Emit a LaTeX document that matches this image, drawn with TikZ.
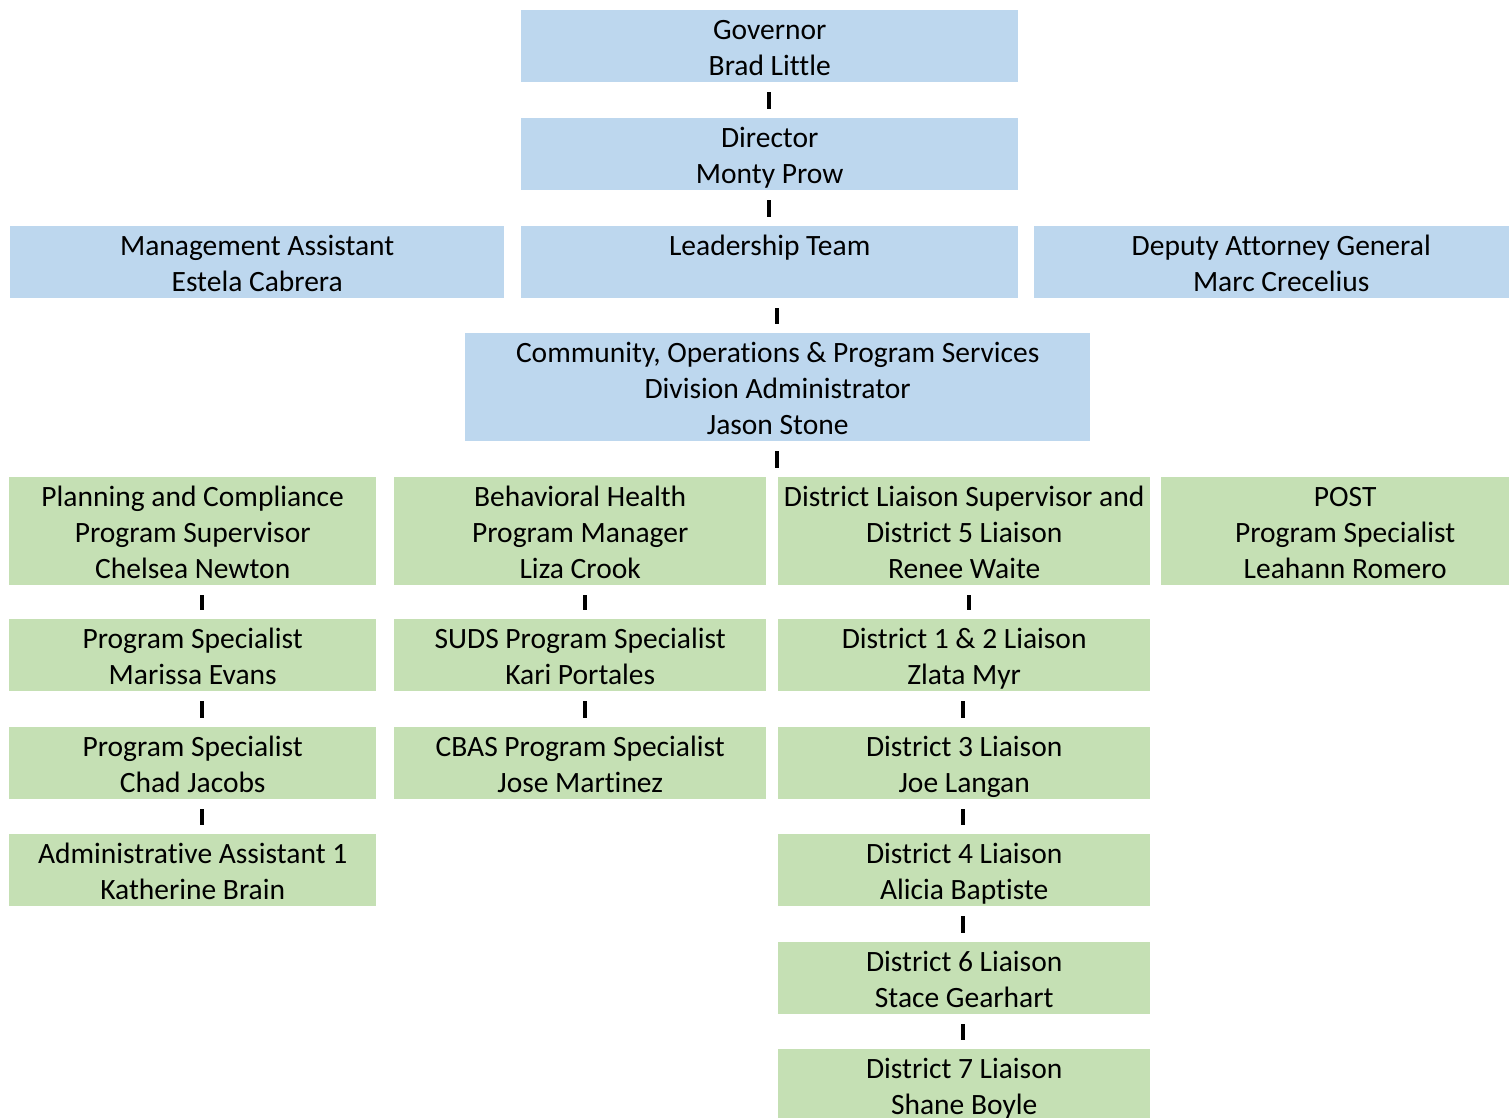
\documentclass[tikz,border=0pt]{standalone}
\usepackage{fontspec}
\setmainfont{Carlito}[Ligatures=NoCommon]
\definecolor{blueF}{HTML}{BDD7EE}
\definecolor{greenF}{HTML}{C5E0B4}
\newcommand\boxlines[1]{\raisebox{-4.5pt}[\height][\depth]{\begin{tabular}{@{}c@{}}#1\end{tabular}}}
\tikzset{
  box/.style={rectangle, inner sep=0pt, anchor=north west,
    font=\fontsize{29.5}{36}\selectfont, text=black},
  bluebox/.style={box, fill=blueF},
  greenbox/.style={box, fill=greenF},
  bar/.style={line width=3.5pt, black, shorten <=10pt, shorten >=9pt},
}
\begin{document}
\begin{tikzpicture}[x=1pt,y=-1pt]
\useasboundingbox (0,0) rectangle (1509,1117);
% top row
\node[bluebox, minimum width=497pt, minimum height=72pt] (gov) at (521,10) {\boxlines{Governor\\Brad Little}};
\node[bluebox, minimum width=497pt, minimum height=72pt] (dir) at (521,118) {\boxlines{Director\\Monty Prow}};
\node[bluebox, minimum width=494pt, minimum height=71pt] (ma) at (10,226) {\boxlines{Management Assistant\\Estela Cabrera}};
\node[bluebox, minimum width=497pt, minimum height=71pt] (lead) at (521,226) {\boxlines{Leadership Team\\\mbox{}}};
\node[bluebox, minimum width=494pt, minimum height=71pt] (dag) at (1034,226) {\boxlines{Deputy Attorney General\\Marc Crecelius}};
\node[bluebox, minimum width=625pt, minimum height=108pt] (cops) at (465,333) {\boxlines{Community, Operations \& Program Services\\Division Administrator\\Jason Stone}};
% green row 1
\node[greenbox, minimum width=367pt, minimum height=107pt] (plan) at (9,477) {\boxlines{Planning and Compliance\\Program Supervisor\\Chelsea Newton}};
\node[greenbox, minimum width=372pt, minimum height=107pt] (bh) at (394,477) {\boxlines{Behavioral Health\\Program Manager\\Liza Crook}};
\node[greenbox, minimum width=372pt, minimum height=107pt] (dls) at (778,477) {\boxlines{District Liaison Supervisor and\\District 5 Liaison\\Renee Waite}};
\node[greenbox, minimum width=368pt, minimum height=107pt] (post) at (1161,477) {\boxlines{POST\\Program Specialist\\Leahann Romero}};
% column 1
\node[greenbox, minimum width=367pt, minimum height=72pt] (ps1) at (9,619) {\boxlines{Program Specialist\\Marissa Evans}};
\node[greenbox, minimum width=367pt, minimum height=72pt] (ps2) at (9,727) {\boxlines{Program Specialist\\Chad Jacobs}};
\node[greenbox, minimum width=367pt, minimum height=72pt] (aa) at (9,834) {\boxlines{Administrative Assistant 1\\Katherine Brain}};
% column 2
\node[greenbox, minimum width=372pt, minimum height=72pt] (suds) at (394,619) {\boxlines{SUDS Program Specialist\\Kari Portales}};
\node[greenbox, minimum width=372pt, minimum height=72pt] (cbas) at (394,727) {\boxlines{CBAS Program Specialist\\Jose Martinez}};
% column 3
\node[greenbox, minimum width=372pt, minimum height=72pt] (d12) at (778,619) {\boxlines{District 1 \& 2 Liaison\\Zlata Myr}};
\node[greenbox, minimum width=372pt, minimum height=72pt] (d3) at (778,727) {\boxlines{District 3 Liaison\\Joe Langan}};
\node[greenbox, minimum width=372pt, minimum height=72pt] (d4) at (778,834) {\boxlines{District 4 Liaison\\Alicia Baptiste}};
\node[greenbox, minimum width=372pt, minimum height=72pt] (d6) at (778,942) {\boxlines{District 6 Liaison\\Stace Gearhart}};
\node[greenbox, minimum width=372pt, minimum height=72pt] (d7) at (778,1049) {\boxlines{District 7 Liaison\\Shane Boyle}};
% connectors (short bars)
\draw[bar] ([xshift=-0.5pt]gov.south) -- ([xshift=-0.5pt]dir.north);
\draw[bar] ([xshift=-0.5pt]dir.south) -- ([xshift=-0.5pt]lead.north);
\draw[bar] ([xshift=7.5pt]lead.south) -- ([xshift=-0.5pt]cops.north);
\draw[bar] ([xshift=-0.5pt]cops.south) -- ([xshift=-0.5pt]cops.south |- bh.north);
\draw[bar] ([xshift=9.5pt]plan.south) -- ([xshift=9.5pt]ps1.north);
\draw[bar] ([xshift=9.5pt]ps1.south) -- ([xshift=9.5pt]ps2.north);
\draw[bar] ([xshift=9.5pt]ps2.south) -- ([xshift=9.5pt]aa.north);
\draw[bar] ([xshift=5pt]bh.south) -- ([xshift=5pt]suds.north);
\draw[bar] ([xshift=5pt]suds.south) -- ([xshift=5pt]cbas.north);
\draw[bar] ([xshift=5pt]dls.south) -- ([xshift=5pt]d12.north);
\draw[bar] ([xshift=-1pt]d12.south) -- ([xshift=-1pt]d3.north);
\draw[bar] ([xshift=-1pt]d3.south) -- ([xshift=-1pt]d4.north);
\draw[bar] ([xshift=-1pt]d4.south) -- ([xshift=-1pt]d6.north);
\draw[bar] ([xshift=-1pt]d6.south) -- ([xshift=-1pt]d7.north);
\end{tikzpicture}
\end{document}
